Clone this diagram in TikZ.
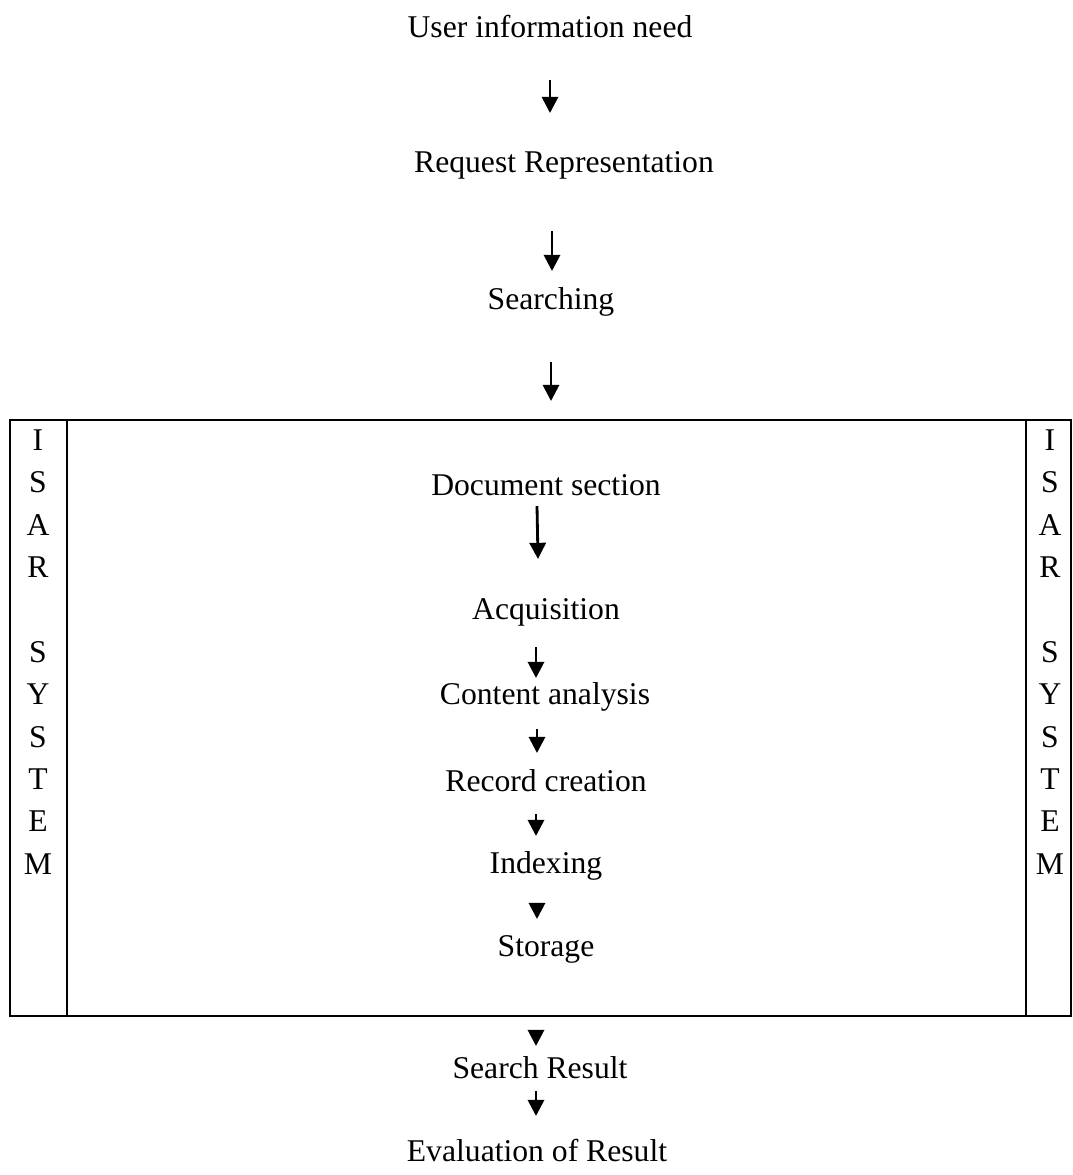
\documentclass[tikz,border=0pt]{standalone}
\usepackage{fontspec}
\setmainfont{Liberation Serif}
\usetikzlibrary{arrows.meta}

\tikzset{
  lbl/.style={font=\fontsize{9}{11}\selectfont, inner sep=0pt},
  arr/.style={line width=0.8pt, -{Triangle[width=4.6pt,length=4.6pt]}},
}

\begin{document}
\begin{tikzpicture}[x=0.01cm,y=-0.01cm]
    \useasboundingbox (0,0) rectangle (1072,1175);
		% outside the box
		\node[lbl] (user) at (550,27) {User information need};
		\node[lbl] (req) at (564,165) {Request Representation};
		\node[lbl] (search) at (551,302) {Searching};
		\coordinate (a1s) at (550,80);
		\coordinate (a1e) at (550,113);
		\coordinate (a2s) at (552,231);
		\coordinate (a2e) at (552,271);
		\coordinate (a3s) at (551,362);
		\coordinate (a3e) at (551,401);
		\draw[arr] (a1s)--(a1e);
		\draw[arr] (a2s)--(a2e);
		\draw[arr] (a3s)--(a3e);
		
		% the system box
		\draw[line width=0.6pt] (10,420) rectangle (1071,1016);
		\draw[line width=0.6pt] (67,420)--(67,1016);
		\draw[line width=0.6pt] (1026,420)--(1026,1016);
		\foreach \l/\k in {I/0,S/1,A/2,R/3,S/5,Y/6,S/7,T/8,E/9,M/10}{
			\node[lbl] (lisar\k) at (38,{440+42.4*\k}) {\l};
			\node[lbl] (risar\k) at (1050,{440+42.4*\k}) {\l};
		}
		
		\node[lbl] (doc) at (546,485) {Document section};
		\node[lbl] (acq) at (546,612) {Acquisition};
		\node[lbl] (cont) at (545,697) {Content analysis};
		\node[lbl] (rec) at (546,781) {Record creation};
		\node[lbl] (idx) at (546,866) {Indexing};
		\node[lbl] (stor) at (546,949) {Storage};
		\coordinate (b1s) at (537,506);
		\coordinate (b1e) at (538,559);
		\coordinate (b2s) at (536,647);
		\coordinate (b2e) at (536,678);
		\coordinate (b3s) at (537,729);
		\coordinate (b3e) at (537,753);
		\coordinate (b4s) at (536,814);
		\coordinate (b4e) at (536,836);
		\coordinate (b5s) at (537,903);
		\coordinate (b5e) at (537,919);
		\draw[arr] (b1s)--(b1e);
		\draw[arr] (b2s)--(b2e);
		\draw[arr] (b3s)--(b3e);
		\draw[arr] (b4s)--(b4e);
		\draw[arr] (b5s)--(b5e);
		
		% below the box
		\node[lbl] (res) at (540,1068) {Search Result};
		\node[lbl] (eval) at (537,1150) {Evaluation of Result};
		\coordinate (c1s) at (536,1031);
		\coordinate (c1e) at (536,1046);
		\coordinate (c2s) at (536,1091);
		\coordinate (c2e) at (536,1116);
		\draw[arr] (c1s)--(c1e);
		\draw[arr] (c2s)--(c2e);
\end{tikzpicture}
\end{document}
